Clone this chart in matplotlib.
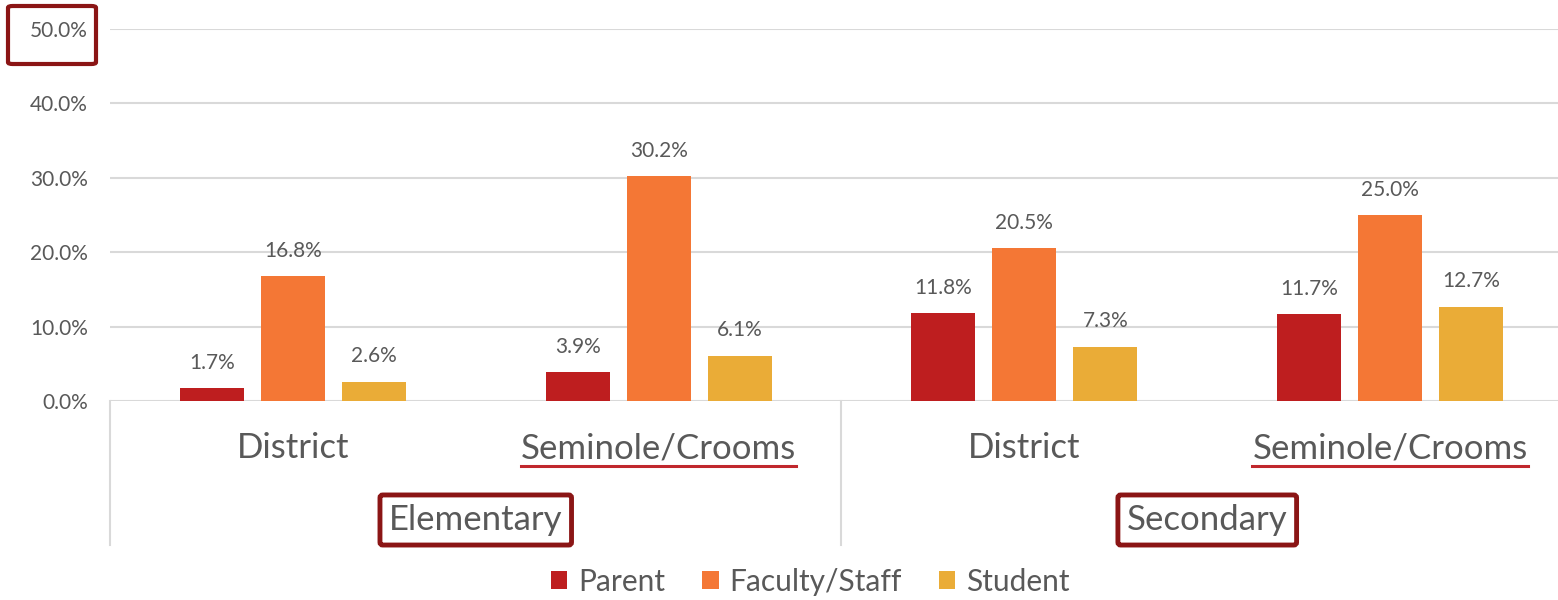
import matplotlib
matplotlib.use("Agg")
import matplotlib.pyplot as plt
from matplotlib.patches import FancyBboxPatch
from matplotlib.lines import Line2D
import numpy as np

# ---- data ----
subcats = ["District", "Seminole/Crooms", "District", "Seminole/Crooms"]
groups = ["Elementary", "Secondary"]
series_names = ["Parent", "Faculty/Staff", "Student"]
parent = [1.7, 3.9, 11.8, 11.7]
faculty = [16.8, 30.2, 20.5, 25.0]
student = [2.6, 6.1, 7.3, 12.7]
yticks = [0, 10, 20, 30, 40, 50]

colors = ["#BE1E1F", "#F47735", "#EAAC37"]
text_col = "#595959"
box_col = "#8B1515"
line_col = "#C0272D"
grid_col = "#D9D9D9"

plt.rcParams["font.family"] = ["Lato", "DejaVu Sans"]

W, H = 1558, 600
fig = plt.figure(figsize=(W / 100, H / 100), dpi=100)
left_px, right_px, top_px, zero_px = 110, 1573, 29, 401
ax = fig.add_axes([left_px / W, 1 - zero_px / H, (right_px - left_px) / W, (zero_px - top_px) / H])

x = np.arange(len(subcats))
bw = 0.175
step = 0.2215
for i, (vals, c, name) in enumerate(zip([parent, faculty, student], colors, series_names)):
    pos = x + (i - 1) * step
    bars = ax.bar(pos, vals, width=bw, color=c, label=name, zorder=3)
    for b, v in zip(bars, vals):
        ax.annotate(f"{v:.1f}%", (b.get_x() + b.get_width() / 2, v), xytext=(0, 11),
                    textcoords="offset points", ha="center", va="bottom",
                    fontsize=15, color=text_col)

ax.set_xlim(-0.5, len(subcats) - 0.5)
ax.set_ylim(0, 50)
ax.set_yticks(yticks)
ax.set_yticklabels([f"{v:.1f}%" for v in yticks], fontsize=15, color=text_col)
ax.tick_params(axis="y", length=0, pad=16)
ax.set_xticks([])
for s in ["top", "right", "left", "bottom"]:
    ax.spines[s].set_visible(False)
ax.yaxis.grid(True, color=grid_col, lw=1.5, zorder=0)
ax.set_axisbelow(True)

# separators
trans = ax.get_xaxis_transform()
axh = zero_px - top_px
low = -(545 - 401) / axh
for xv in [-0.5, 1.5]:
    ax.add_line(Line2D([xv, xv], [0, low], transform=trans, color=grid_col, lw=1.5, clip_on=False))

# sub-category labels
sub_texts = []
for xi, lab in zip(x, subcats):
    t = ax.text(xi, -(448 - 401) / axh, lab, transform=trans, ha="center", va="center",
                fontsize=25, color=text_col)
    sub_texts.append(t)

# group labels with boxes
gy = -(520 - 401) / axh
for gi, g in enumerate(groups):
    ax.text(0.5 + 2 * gi, gy, g, transform=trans, ha="center", va="center", fontsize=25, color=text_col,
            bbox=dict(boxstyle="round,pad=0.26,rounding_size=0.08", fc="white", ec=box_col, lw=3.5))

# box around top tick label
fig.patches.append(FancyBboxPatch((8 / W, 1 - 64 / H), 88 / W, 58 / H,
                                  boxstyle="round,pad=0,rounding_size=0.003",
                                  transform=fig.transFigure, fc="none", ec=box_col, lw=3))

# underline Seminole/Crooms labels
fig.canvas.draw()
r = fig.canvas.get_renderer()
for t in sub_texts:
    if "Seminole" in t.get_text():
        bb = t.get_window_extent(r)
        yline = bb.y0 - 2
        fig.add_artist(Line2D([bb.x0 / W, bb.x1 / W], [yline / H, yline / H], transform=fig.transFigure,
                              color=line_col, lw=2.2))

# legend
leg = fig.legend(loc="center", bbox_to_anchor=(810 / W, 1 - 582 / H), ncol=3, frameon=False,
                 fontsize=21.5, handlelength=0.55, handleheight=0.55, handletextpad=0.35, columnspacing=1.25)
for txt in leg.get_texts():
    txt.set_color(text_col)

fig.savefig("out.png", dpi=100)
